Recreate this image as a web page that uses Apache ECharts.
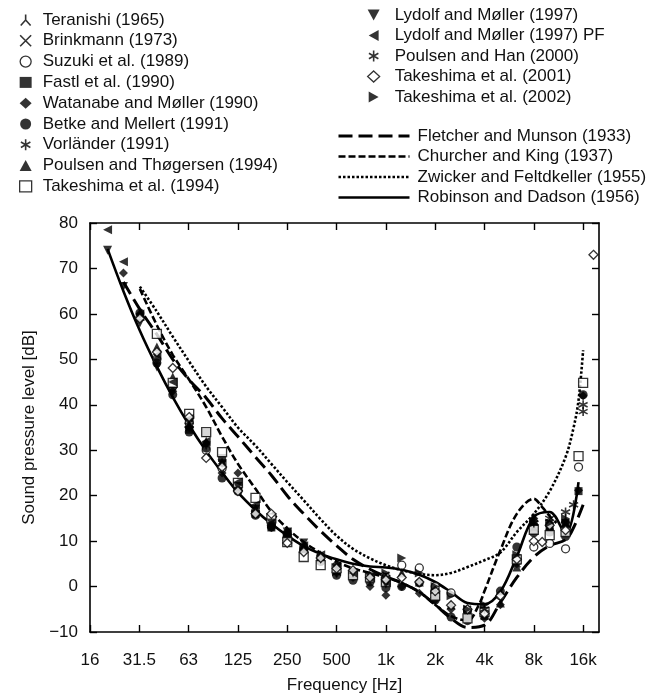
<!DOCTYPE html>
<html><head><meta charset="utf-8">
<script src="https://cdn.jsdelivr.net/npm/echarts@6/dist/echarts.min.js"></script>
<style>html,body{margin:0;padding:0;background:#fff}#c{width:654px;height:696px}</style>
</head><body><div id="c"></div>
<script>
// ---------- data (frequency in Hz, level in dB) ----------
const xTickLabels = ['16','31.5','63','125','250','500','1k','2k','4k','8k','16k'];
const xTickValues = [15.625,31.25,62.5,125,250,500,1000,2000,4000,8000,16000];
const yTicks = [-10,0,10,20,30,40,50,60,70,80];

const fletcherMunson = [[25,67],[31.5,61],[40,55.5],[50,50],[63,45.5],[80,41.5],[100,37],[125,33],[160,28.5],[200,24.5],[250,20],[315,16],[400,12.2],[500,9],[630,6],[800,3.8],[1000,2.2],[1250,0.8],[1600,-1.2],[2000,-4],[2500,-7],[3150,-9],[4000,-8.5],[5000,-3.5],[6300,2],[8000,6.5],[10000,9],[12500,10.3],[14000,13],[16000,18]];
const churcherKing = [[31.5,65.5],[40,57.5],[50,51],[63,45.5],[80,39.5],[100,33],[125,27],[160,21.5],[200,16.5],[250,12.8],[315,9.8],[400,7.4],[500,5.5],[630,4],[800,3],[1000,2],[1250,0.8],[1600,-1.2],[2000,-4],[2500,-6.5],[3150,-7.5],[3700,-4],[4000,-1],[5000,8],[6300,16],[8000,19.3],[9000,17.5],[10000,15.5],[11000,14]];
const zwickerFeldtkeller = [[31.5,66],[40,60.5],[50,55],[63,49.5],[80,44],[100,39.5],[125,35],[160,31],[200,27],[250,23],[315,19],[400,14.8],[500,11.2],[630,8.3],[800,6.2],[1000,4.7],[1250,3.6],[1600,2.8],[2000,2.5],[2500,3],[3150,4.3],[4000,5.8],[5000,7.5],[6300,12],[8000,16],[10000,21],[12500,28.5],[14000,35],[15000,41],[16000,52]];
const robinsonDadson = [[20,74.3],[25,65],[31.5,56.3],[40,48.4],[50,41.7],[63,35.5],[80,29.8],[100,25.1],[125,20.7],[160,16.8],[200,13.8],[250,11.2],[315,8.9],[400,7.2],[500,6],[630,5],[800,4.4],[1000,4.2],[1250,3.7],[1600,2.6],[2000,1],[2500,-1.2],[3150,-3.6],[4000,-3.9],[5000,-1.1],[6300,6.6],[8000,15.3],[10000,16.4],[12500,11.6],[15000,23]];

const teranishi = [[31.5,59.5],[63,36],[125,22],[250,11],[500,4],[1000,2],[2000,-2],[4000,-5],[8000,13],[12500,15]];
const brinkmann = [[63,35],[125,21.5],[250,11],[500,3.5],[1000,2.5],[2000,-1],[3150,-5],[4000,-5.5],[6300,5],[8000,13],[10000,14],[12500,14]];
const suzuki = [[31.5,59.2],[40,50],[50,44],[63,36],[80,30],[100,26],[125,21],[160,16.5],[200,13.5],[250,11],[315,8.5],[400,6.5],[500,4.5],[630,3],[800,2],[1000,2],[1250,4.7],[1600,4.1],[2000,0],[2500,-1.4],[3150,-5.2],[4000,-6],[5000,-2],[6300,6],[8000,8.7],[10000,9.5],[12500,8.3],[15000,26.3]];
const fastl = [[63,34.5],[80,33.8],[100,28.3],[125,22],[160,16],[200,13],[250,11],[315,8.5],[500,3.5],[1000,1],[2000,-2],[3150,-6],[4000,-6.5],[6300,6],[8000,13.1],[10000,13],[12500,14],[15000,21]];
const watanabe = [[25,69],[31.5,60],[40,50],[50,43],[63,35],[80,31.6],[100,25],[125,25],[160,16],[200,13],[250,11],[315,8],[400,6],[500,3],[630,2],[800,0],[1000,-1.9],[1250,0],[1600,-1.5],[2000,-3],[2500,-5],[3150,-7],[4000,-7],[5000,-4],[6300,5],[8000,15],[10000,14],[12500,14],[15000,21.2],[16000,42]];
const betke = [[31.5,60.2],[40,49.2],[50,42.2],[63,34],[80,30.5],[100,23.9],[125,21.2],[160,15.7],[200,13.1],[250,11.8],[315,8],[400,5.5],[500,2.5],[630,1.4],[800,1],[1000,-0.3],[1250,0],[1600,0.8],[2000,-3],[2500,-6.7],[3150,-7.5],[4000,-6],[5000,-1],[6300,8.7],[8000,11.8],[10000,12],[12500,11],[16000,42.2]];
const vorlander = [[63,35.5],[125,22],[250,11],[500,3],[1000,1],[2000,-2],[4000,-6],[8000,14],[16000,40]];
const poulsenThogersen = [[40,52.7],[50,46.1],[63,35.6],[80,32],[100,27.4],[125,23],[160,17.3],[200,14],[250,12.4],[315,9],[400,7],[500,5],[630,3],[800,2.5],[1000,2.1],[1250,3],[1600,1],[2000,-1.4],[2500,-4],[3150,-6],[4000,-5],[5000,-3.6],[6300,4.3],[8000,15.3],[10000,13.5],[12500,14]];
const takeshima1994 = [[40,55.6],[50,44.8],[63,38],[80,34],[100,29.6],[125,22.8],[160,19.5],[200,15],[250,9.8],[315,6.5],[400,4.7],[500,4],[630,2.5],[800,2],[1000,1],[2000,-2],[3150,-7],[4000,-5.6],[6300,6],[8000,12.5],[10000,11.3],[12500,12],[15000,28.7],[16000,44.8]];
const lydolf = [[20,74],[25,66],[31.5,58],[40,48.3],[50,43],[63,36],[80,31],[100,27],[125,22],[160,17],[200,14],[250,12],[315,9.6],[400,6],[500,4],[630,3],[800,2],[1000,0.5]];
const lydolfPF = [[20,78.5],[25,71.5],[31.5,60],[40,51],[50,45],[63,37],[80,32],[100,27],[125,23],[160,18],[200,14],[250,12],[315,9],[400,7],[500,4.5],[630,3],[800,2],[1000,1]];
const poulsenHan = [[1000,2],[2000,-1],[4000,-5],[8000,14],[10000,15],[12500,16.4],[14000,18],[16000,38.5]];
const takeshima2001 = [[31.5,59],[40,51.6],[50,48.1],[63,37.3],[80,28.3],[100,26.3],[125,21],[160,16],[200,16],[250,9.6],[315,7.6],[400,6.3],[500,4],[630,3.6],[800,2],[1000,1.5],[1250,2],[1600,1],[2000,-1],[2500,-4.1],[3150,-5],[4000,-6],[5000,-2],[6300,6],[8000,10],[9000,9.8],[10000,13.5],[12500,12.4],[18500,73]];
const takeshima2002 = [[1000,3],[1250,6.3],[1600,3],[2000,0],[2500,-2],[3150,-5],[4000,-4],[6300,7],[8000,14],[10000,14],[12500,15]];

// ---------- styling ----------
const FONT = 'Liberation Sans';
const SYM = {
  tri: 'path://M5,0L5,5M5,5L0.5,10M5,5L9.5,10',
  cross: 'path://M0,0L10,10M10,0L0,10',
  star: 'path://M5,0L5,10M0.7,2.5L9.3,7.5M0.7,7.5L9.3,2.5',
  down: 'path://M0,0L10,0L5,9Z',
  left: 'path://M9,0L9,10L0,5Z',
  right: 'path://M0,0L9,5L0,10Z'
};
const strokeStyle = {color:'rgba(0,0,0,0)', borderColor:'#000', borderWidth:1.6};
const fillStyle = {color:'#000', borderWidth:0};
const openStyle = {color:'#fff', borderColor:'#000', borderWidth:1.3};

const scatterDefs = [
  ['Teranishi (1965)', teranishi, SYM.tri, strokeStyle, 9],
  ['Brinkmann (1973)', brinkmann, SYM.cross, strokeStyle, 7],
  ['Suzuki et al. (1989)', suzuki, 'circle', openStyle, 8],
  ['Fastl et al. (1990)', fastl, 'rect', fillStyle, 8],
  ['Watanabe and Møller (1990)', watanabe, 'diamond', fillStyle, 9],
  ['Betke and Mellert (1991)', betke, 'circle', fillStyle, 9],
  ['Vorländer (1991)', vorlander, SYM.star, strokeStyle, 9],
  ['Poulsen and Thøgersen (1994)', poulsenThogersen, 'triangle', fillStyle, 9],
  ['Takeshima et al. (1994)', takeshima1994, 'rect', openStyle, 9],
  ['Lydolf and Møller (1997)', lydolf, SYM.down, fillStyle, 9],
  ['Lydolf and Møller (1997) PF', lydolfPF, SYM.left, fillStyle, 9],
  ['Poulsen and Han (2000)', poulsenHan, SYM.star, strokeStyle, 9],
  ['Takeshima et al. (2001)', takeshima2001, 'diamond', openStyle, 9],
  ['Takeshima et al. (2002)', takeshima2002, SYM.right, fillStyle, 9]
];
const lineDefs = [
  ['Fletcher and Munson (1933)', fletcherMunson, [14,6], 3],
  ['Churcher and King (1937)', churcherKing, [7,3], 2.6],
  ['Zwicker and Feltdkeller (1955)', zwickerFeldtkeller, [2.5,2], 2.6],
  ['Robinson and Dadson (1956)', robinsonDadson, 'solid', 2.6]
];

const series = [];
lineDefs.forEach(d => series.push({
  name: d[0], type: 'line', data: d[1], smooth: 0.35, symbol: 'none', z: 3,
  itemStyle: {color: '#000', opacity: 0},
  lineStyle: {color:'#000', width: d[3], type: d[2]}, silent: true
}));
scatterDefs.forEach(d => series.push({
  name: d[0], type: 'scatter', data: d[1], symbol: d[2], symbolSize: d[4], z: 4,
  itemStyle: Object.assign({}, d[3]), silent: true
}));

const legendItems = defs => defs.map(d => ({name: d[0], icon: d[2], itemStyle: Object.assign({}, d[3])}));
const legendText = (pad) => ({fontFamily: FONT, fontSize: 17, color: '#111', lineHeight: 20, padding: [0,0,0,pad]});

function formatFreq(v) {
  const l = Math.log2(v / 15.625);
  const k = Math.round(l);
  if (Math.abs(l - k) > 0.02) return '';
  return xTickLabels[k] || '';
}

const axisCommon = () => ({
  axisLine: {onZero: false, lineStyle: {color:'#000', width: 1.6}},
  splitLine: {show: false}
});
const tickStyle = {color:'#000', width: 1.4};

const option = {
  animation: false,
  backgroundColor: '#fff',
  textStyle: {fontFamily: FONT},
  grid: {left: 90, right: 55, top: 223, bottom: 64, containLabel: false, outerBoundsMode: 'none'},
  legend: [
    {orient:'vertical', left: 19, top: 10, padding: 0, itemGap: 0.8, itemWidth: 12, itemHeight: 11, selectedMode: false,
     textStyle: legendText(6), data: legendItems(scatterDefs.slice(0,9))},
    {orient:'vertical', left: 367, top: 5, padding: 0, itemGap: 0.5, itemWidth: 12, itemHeight: 11, selectedMode: false,
     textStyle: legendText(10), data: legendItems(scatterDefs.slice(9))},
    {orient:'vertical', left: 337, top: 126, padding: 0, itemGap: 0.5, itemWidth: 71, itemHeight: 12, selectedMode: false,
     textStyle: legendText(3),
     data: lineDefs.map(d => ({name: d[0], itemStyle: {opacity: 0},
       lineStyle: {color: '#000', width: d[3], type: d[2]}}))}
  ],
  xAxis: [
    Object.assign(axisCommon(), {
      type: 'log', logBase: 2, min: 15.625, max: 20000, position: 'bottom',
      name: 'Frequency [Hz]', nameLocation: 'middle', nameGap: 45,
      nameTextStyle: {fontFamily: FONT, fontSize: 17, color: '#111'},
      axisTick: {inside: true, length: 7, lineStyle: tickStyle, customValues: xTickValues},
      axisLabel: {customValues: xTickValues, formatter: formatFreq, fontFamily: FONT, fontSize: 17, color: '#111', margin: 20}
    }),
    Object.assign(axisCommon(), {
      type: 'log', logBase: 2, min: 15.625, max: 20000, position: 'top',
      axisTick: {inside: true, length: 7, lineStyle: tickStyle, customValues: xTickValues},
      axisLabel: {show: false}
    })
  ],
  yAxis: [
    Object.assign(axisCommon(), {
      type: 'value', min: -10, max: 80, interval: 10, position: 'left',
      name: 'Sound pressure level [dB]', nameLocation: 'middle', nameGap: 52,
      nameTextStyle: {fontFamily: FONT, fontSize: 17, color: '#111'},
      axisTick: {inside: true, length: 7, lineStyle: tickStyle},
      axisLabel: {fontFamily: FONT, fontSize: 17, color: '#111', margin: 12,
        formatter: v => yTicks.includes(v) ? (v < 0 ? '\u2212' + Math.abs(v) : String(v)) : ''}
    }),
    Object.assign(axisCommon(), {
      type: 'value', min: -10, max: 80, interval: 10, position: 'right',
      axisTick: {inside: true, length: 7, lineStyle: tickStyle},
      axisLabel: {show: false}
    })
  ],
  series: series
};

const chart = echarts.init(document.getElementById('c'), null, {renderer: 'canvas'});
chart.setOption(option);
</script>
</body></html>
